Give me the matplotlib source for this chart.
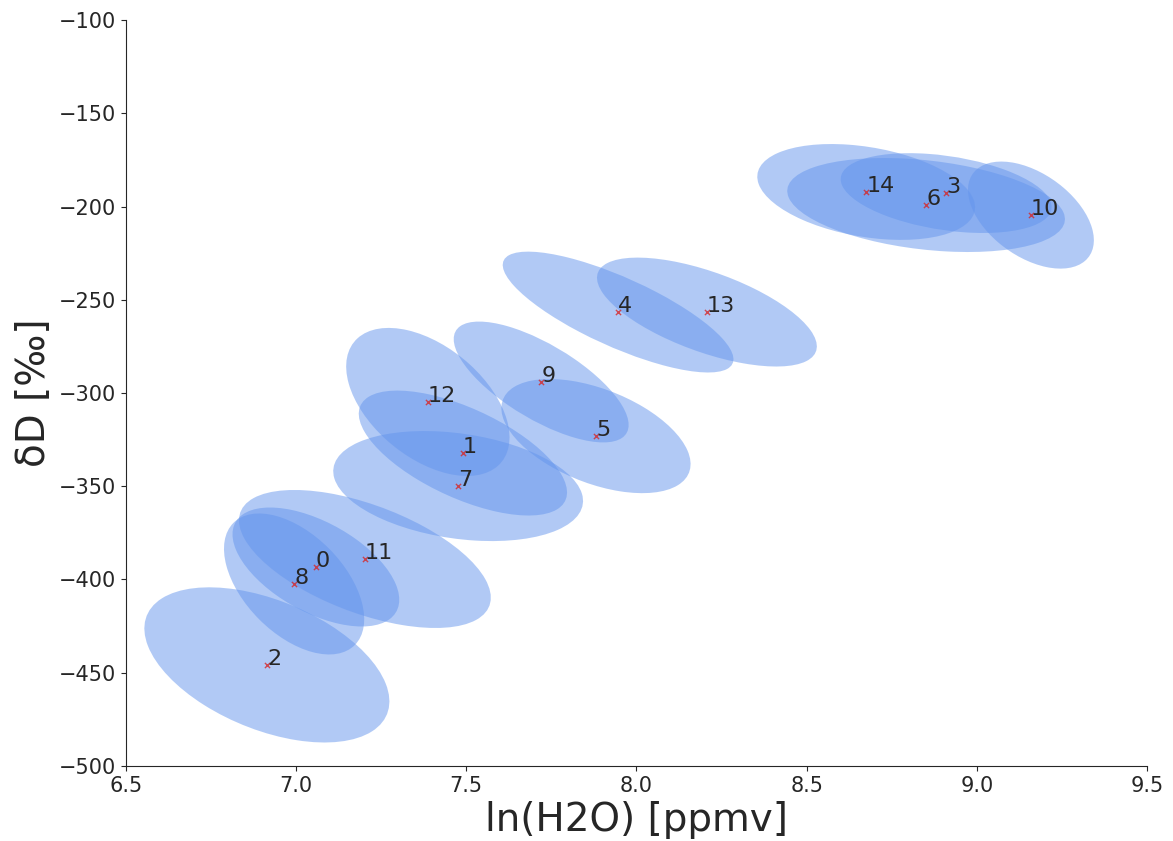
import numpy as np
import matplotlib
matplotlib.use('Agg')
import matplotlib.pyplot as plt
import matplotlib.transforms as transforms
from matplotlib.patches import Ellipse
import seaborn as sns

# centres of the samples
ln_h2o = [7.058, 7.490, 6.914, 8.910, 7.946, 7.881, 8.851, 7.476,
          6.994, 7.720, 9.159, 7.202, 7.387, 8.207, 8.675]
delta_d = [-393.3, -332.2, -445.8, -192.8, -256.6, -323.1, -199.2, -349.9,
           -402.4, -294.1, -204.6, -389.0, -304.8, -256.6, -192.2]
# half extent of each ellipse along x and y, and the correlation
spread_x = [0.245, 0.306, 0.360, 0.310, 0.339, 0.278, 0.408, 0.367,
            0.206, 0.257, 0.185, 0.370, 0.240, 0.323, 0.320]
spread_y = [31.9, 33.5, 41.6, 21.4, 32.4, 30.6, 25.2, 29.5,
            37.8, 32.4, 28.7, 37.0, 39.7, 29.2, 25.7]
corr = [-0.55, -0.63, -0.47, -0.35, -0.78, -0.49, -0.30, -0.27,
        -0.50, -0.71, -0.47, -0.56, -0.48, -0.63, -0.32]


def add_ellipse(ax, cx, cy, sx, sy, rho, **kw):
    e = Ellipse((0, 0), width=2 * np.sqrt(1 + rho), height=2 * np.sqrt(1 - rho), **kw)
    t = transforms.Affine2D().rotate_deg(45).scale(sx, sy).translate(cx, cy)
    e.set_transform(t + ax.transData)
    ax.add_patch(e)


def main():
    sns.set_style('ticks')
    fig, ax = plt.subplots(figsize=(11.73, 8.41), dpi=100)
    fig.subplots_adjust(left=0.1074, right=0.9778, top=0.9762, bottom=0.0892)
    for i in range(len(ln_h2o)):
        add_ellipse(ax, ln_h2o[i], delta_d[i], spread_x[i], spread_y[i], corr[i],
                    facecolor='cornflowerblue', alpha=0.5, edgecolor='none')
    ax.scatter(ln_h2o, delta_d, marker='x', color='tab:red', s=14,
               linewidths=1, alpha=0.8, zorder=3)
    for i in range(len(ln_h2o)):
        ax.annotate(str(i), (ln_h2o[i], delta_d[i]), fontsize=16, color='.15')
    ax.set_xlim(6.5, 9.5)
    ax.set_ylim(-500, -100)
    ax.set_xlabel('ln(H2O) [ppmv]', fontsize=28)
    ax.set_ylabel('δD [‰]', fontsize=28)
    ax.tick_params(labelsize=15)
    sns.despine(ax=ax)
    fig.savefig('out.png')


if __name__ == '__main__':
    main()
